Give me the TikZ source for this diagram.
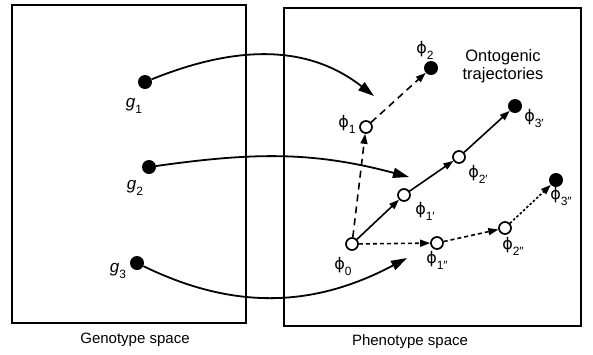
\documentclass[tikz,border=0pt]{standalone}
\usepackage{fontspec}
\setmainfont{Liberation Sans}
\newfontfamily\phifont{DejaVu Sans}
\usetikzlibrary{arrows.meta}

% phenotype and genotype symbols with lowered indices
\newcommand{\phsym}[1]{{\phifont\fontsize{16}{16}\selectfont ϕ}\raisebox{-6pt}{\fontsize{12}{12}\selectfont #1}}
\newcommand{\gsym}[1]{{\fontsize{17}{17}\selectfont\textit{g}}\raisebox{-6pt}{\fontsize{12}{12}\selectfont #1}}

\begin{document}
\begin{tikzpicture}[x=1pt, y=-1pt,
  space/.style={draw, line width=1.9pt},
  gdot/.style={circle, fill, inner sep=0pt, minimum size=14pt},
  pfull/.style={circle, fill, inner sep=0pt, minimum size=14pt},
  popen/.style={circle, draw, fill=white, line width=1.7pt, inner sep=0pt, minimum size=12pt},
  lbl/.style={font=\fontsize{15}{17}\selectfont, inner sep=0pt},
  maparrow/.style={line width=1.8pt, -{Triangle[length=16pt,width=10pt]}},
  traj/.style={line width=1.6pt, -{Triangle[length=10pt,width=7pt]}},
  trajdash/.style={traj, dash pattern=on 7pt off 5pt},
  trajdot/.style={traj, dash pattern=on 4pt off 3pt}]
\useasboundingbox (0,0) rectangle (593,354);

% the two spaces
\draw[space] (12,5) rectangle (246,323);
\draw[space] (284,8) rectangle (581,326);
\node[lbl] (gspace) at (135,340) {Genotype space};
\node[lbl] (pspace) at (410,342) {Phenotype space};
\node[lbl, align=center, font=\fontsize{16.5}{18}\selectfont] (onto) at (503,66) {Ontogenic\\trajectories};

% genotypes
\node[gdot] (g1) at (145,82) {};
\node[gdot] (g2) at (149,167) {};
\node[gdot] (g3) at (137,263) {};
\node[lbl] (lg1) at (134,106) {\gsym{1}};
\node[lbl] (lg2) at (135,188) {\gsym{2}};
\node[lbl] (lg3) at (118,271) {\gsym{3}};

% phenotypes
\node[popen] (p0) at (352,244) {};
\node[popen] (p1) at (366,127) {};
\node[pfull] (p2) at (431,68) {};
\node[popen] (p1a) at (404,195) {};
\node[popen] (p2a) at (459,157) {};
\node[pfull] (p3a) at (515,106) {};
\node[popen] (p1b) at (437,243) {};
\node[popen] (p2b) at (505,228) {};
\node[pfull] (p3b) at (556,180) {};

\node[lbl] (lp0) at (343,266) {\phsym{0}};
\node[lbl] (lp1) at (347,124) {\phsym{1}};
\node[lbl] (lp2) at (425,50) {\phsym{2}};
\node[lbl] (lp1a) at (425,211) {\phsym{1′}};
\node[lbl] (lp2a) at (478,174) {\phsym{2′}};
\node[lbl] (lp3a) at (534,118) {\phsym{3′}};
\node[lbl] (lp1b) at (437,260) {\phsym{1″}};
\node[lbl] (lp2b) at (513,246) {\phsym{2″}};
\node[lbl] (lp3b) at (561,196) {\phsym{3″}};

% mapping from genotype to phenotype
\coordinate (m1) at (374,96);
\coordinate (m2) at (409,177);
\coordinate (m3) at (407,258);
\draw[maparrow] (g1) to[out=22, in=142] (m1);
\draw[maparrow] (g2) to[out=8, in=165] (m2);
\draw[maparrow] (g3) to[out=-26, in=-152] (m3);

% ontogenic trajectories
\draw[trajdash] (p0) -- (p1);
\draw[trajdash] (p1) -- (p2);
\draw[traj] (p0) -- (p1a);
\draw[traj] (p1a) -- (p2a);
\draw[traj] (p2a) -- (p3a);
\draw[trajdot] (p0) -- (p1b);
\draw[trajdot] (p1b) -- (p2b);
\draw[traj, dash pattern=on 2.5pt off 2pt] (p2b) -- (p3b);
\end{tikzpicture}
\end{document}
